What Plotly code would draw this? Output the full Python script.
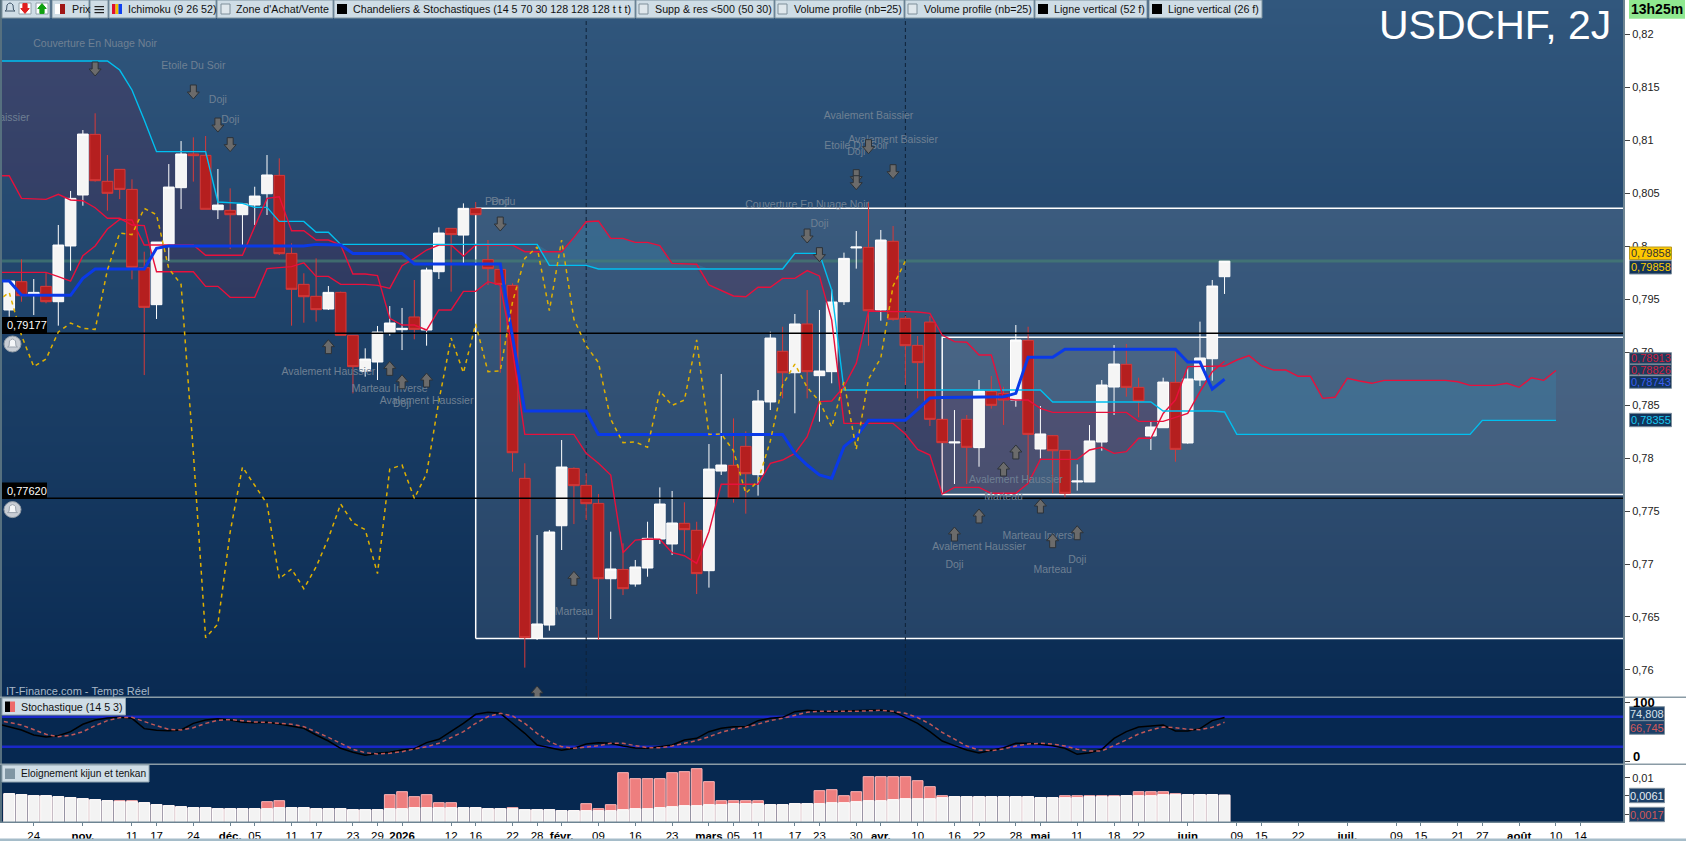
import numpy as np
import plotly.graph_objects as go

W = 1686
H = 841
UI_FONT = "Liberation Sans"

# candles
opens = [0.79397, 0.79664, 0.79541, 0.7962, 0.79475, 0.80001, 0.80482, 0.81054, 0.80611, 0.80724,
         0.80535, 0.79796, 0.79447, 0.80016, 0.80551, 0.80869, 0.80856, 0.80343, 0.80337, 0.80296,
         0.80387, 0.80494, 0.80667, 0.79931, 0.79639, 0.79526, 0.79406, 0.79563, 0.79158, 0.78818,
         0.78906, 0.79183, 0.79211, 0.79331, 0.79208, 0.79758, 0.80167, 0.80104, 0.80356, 0.79872,
         0.7978, 0.79629, 0.77808, 0.76298, 0.76424, 0.77361, 0.77902, 0.77742, 0.77572, 0.76861,
         0.76949, 0.76811, 0.76962, 0.77236, 0.77189, 0.77384, 0.77318, 0.76937, 0.77877, 0.77931,
         0.7811, 0.77843, 0.78529, 0.79007, 0.78805, 0.79265, 0.78777, 0.78815, 0.79475, 0.79982,
         0.79988, 0.79397, 0.80045, 0.79318, 0.79063, 0.79283, 0.78365, 0.78142, 0.78365, 0.78098,
         0.78629, 0.7861, 0.78547, 0.7911, 0.78085, 0.78211, 0.78072, 0.77774, 0.77774, 0.78151,
         0.7867, 0.78884, 0.78667, 0.78208, 0.78286, 0.78714, 0.78142, 0.78736, 0.78937, 0.79711]
highs = [0.7967, 0.79875, 0.79689, 0.79749, 0.80199, 0.8052, 0.81095, 0.81253, 0.80859, 0.80724,
         0.8063, 0.79947, 0.80038, 0.80774, 0.80991, 0.81026, 0.81039, 0.80727, 0.80545, 0.80397,
         0.8056, 0.80859, 0.80828, 0.80026, 0.79743, 0.79884, 0.79623, 0.7957, 0.79158, 0.79035,
         0.79246, 0.79434, 0.79416, 0.7968, 0.79796, 0.80177, 0.80167, 0.80403, 0.80416, 0.80057,
         0.7978, 0.79648, 0.7795, 0.77273, 0.77321, 0.7817, 0.77912, 0.77855, 0.7766, 0.77305,
         0.77195, 0.77038, 0.77399, 0.77723, 0.77689, 0.77582, 0.77399, 0.78132, 0.78793, 0.78374,
         0.78252, 0.78642, 0.79192, 0.79239, 0.79359, 0.79585, 0.79397, 0.79592, 0.79938, 0.80142,
         0.80419, 0.80152, 0.80189, 0.7934, 0.79151, 0.7934, 0.78365, 0.78453, 0.78406, 0.78736,
         0.78774, 0.78673, 0.79255, 0.79239, 0.78491, 0.78217, 0.78072, 0.7794, 0.78311, 0.78736,
         0.79066, 0.79076, 0.78758, 0.78343, 0.78758, 0.79004, 0.78846, 0.79287, 0.7968, 0.79858]
lows = [0.79334, 0.79475, 0.79349, 0.7946, 0.79249, 0.79768, 0.80381, 0.80608, 0.80334, 0.80444,
        0.79686, 0.78783, 0.79312, 0.79859, 0.8035, 0.80608, 0.80347, 0.80255, 0.79972, 0.80004,
        0.80199, 0.80293, 0.79916, 0.79249, 0.79277, 0.79287, 0.79397, 0.79158, 0.7861, 0.78768,
        0.78736, 0.79154, 0.79019, 0.7912, 0.7906, 0.79689, 0.7957, 0.79837, 0.80296, 0.79633,
        0.78805, 0.77871, 0.76022, 0.76283, 0.76371, 0.77132, 0.77377, 0.77415, 0.76283, 0.76481,
        0.76707, 0.76786, 0.7688, 0.77189, 0.77085, 0.77107, 0.76717, 0.76777, 0.7784, 0.77579,
        0.77475, 0.77645, 0.78453, 0.78563, 0.78422, 0.78563, 0.78343, 0.78705, 0.79444, 0.79787,
        0.7906, 0.79296, 0.79296, 0.78689, 0.78563, 0.78302, 0.78145, 0.77755, 0.77755, 0.77918,
        0.78466, 0.78312, 0.78484, 0.77793, 0.77997, 0.77667, 0.77626, 0.77692, 0.77774, 0.78069,
        0.78406, 0.78579, 0.78384, 0.78076, 0.78286, 0.77965, 0.78135, 0.78679, 0.7873, 0.79548]
closes = [0.7967, 0.79532, 0.79563, 0.79475, 0.8001, 0.8045, 0.81057, 0.80617, 0.80498, 0.80535,
          0.79799, 0.79422, 0.80038, 0.80557, 0.80869, 0.80853, 0.80347, 0.80387, 0.80296, 0.80397,
          0.80472, 0.80671, 0.79928, 0.79592, 0.79522, 0.794, 0.79563, 0.79158, 0.78862, 0.78934,
          0.79189, 0.79274, 0.79224, 0.79214, 0.79774, 0.80123, 0.80108, 0.80356, 0.80296, 0.79787,
          0.79639, 0.7805, 0.76305, 0.76434, 0.77302, 0.77915, 0.77739, 0.77569, 0.76861, 0.76953,
          0.76767, 0.76972, 0.77242, 0.77566, 0.77387, 0.77324, 0.76909, 0.77896, 0.77934, 0.7762,
          0.77852, 0.78538, 0.79132, 0.78805, 0.79265, 0.78815, 0.78821, 0.79472, 0.79884, 0.79991,
          0.7939, 0.80057, 0.79309, 0.7906, 0.789, 0.78365, 0.78145, 0.78151, 0.78101, 0.78632,
          0.78497, 0.78547, 0.79114, 0.78223, 0.78227, 0.78069, 0.77667, 0.77783, 0.78161, 0.78689,
          0.78887, 0.78667, 0.78535, 0.78293, 0.78717, 0.78082, 0.78746, 0.78944, 0.79623, 0.79858]

# ichimoku, lines start one bar before the first candle (left edge of the chart)
tenkan = [0.79752] * 5 + [0.79711, 0.7967, 0.79909, 0.80001, 0.80161, 0.80252, 0.80246] + [0.8001] * 5 + [0.79913] * 4 \
    + [0.80183, 0.8045, 0.80466, 0.80145, 0.80145, 0.80057, 0.80057, 0.8001, 0.79736, 0.79736, 0.79721, 0.79318,
       0.79255, 0.79255, 0.79208, 0.79397, 0.79397, 0.79573, 0.79573, 0.79664, 0.79633, 0.79019] + [0.78223] * 5 \
    + [0.78044, 0.7795, 0.7784, 0.77107, 0.77226, 0.77236, 0.77233, 0.77107, 0.77078, 0.77006, 0.77305] + [0.77752] * 4 \
    + [0.7795, 0.77981, 0.78044, 0.78201, 0.78532, 0.78538, 0.78673, 0.78893, 0.79387, 0.79381, 0.79381, 0.79381,
       0.79378, 0.79365, 0.79161, 0.79098, 0.79092, 0.78972, 0.78972, 0.78563, 0.78547, 0.78547, 0.78469] \
    + [0.78431] * 7 + [0.78346] * 3 + [0.78384, 0.78421, 0.78626, 0.78815, 0.78913]
kijun = [0.7967, 0.7967, 0.79538] + [0.79535] * 4 + [0.79695] + [0.79784] * 5 + [0.79979] + [0.80001] * 12 \
    + [0.80016, 0.80016, 0.8001] + [0.79931] * 5 + [0.79831] * 8 + [0.79145] + [0.78444] * 6 + [0.78223] * 16 \
    + [0.78044, 0.77934, 0.7784, 0.77808, 0.78107, 0.78201] + [0.78356] * 4 + [0.78459, 0.78566] + [0.78572] * 5 \
    + [0.78579, 0.7861] + [0.7895] * 3 + [0.79026] * 10 + [0.78906, 0.78906, 0.78651, 0.78743]
senkou_a = [0.80664, 0.80664, 0.8045, 0.80444, 0.80441, 0.80488, 0.80435, 0.80428, 0.80362, 0.80262, 0.80262, 0.80199, 0.80193] \
    + [0.79758] * 4 + [0.7962] * 2 + [0.79516] * 3 + [0.79787, 0.79796, 0.79806, 0.79843, 0.79714, 0.79714] \
    + [0.79639] * 3 + [0.79629, 0.79601, 0.79815, 0.79884, 0.79963, 0.8001, 0.8001, 0.79906] + [0.8001] * 4 \
    + [0.79947] * 4 + [0.80082, 0.8023, 0.80237, 0.80073, 0.80073, 0.80035, 0.80035, 0.80004, 0.79837, 0.79831,
                       0.79828, 0.79633, 0.79579, 0.79529, 0.79522, 0.79611, 0.79611, 0.79695, 0.79695, 0.79768,
                       0.79718, 0.79302] \
    + [0.78327] * 5 + [0.78226, 0.78082, 0.78028, 0.7766] + [0.77723] * 3 + [0.77667] * 3 + [0.77761] + [0.77987] * 4 \
    + [0.78076, 0.78101, 0.78044, 0.7806, 0.78186, 0.78186, 0.78421, 0.78547] + [0.78862] * 3 \
    + [0.78868, 0.78925, 0.78966, 0.78871, 0.7883, 0.7883, 0.78771, 0.78771, 0.78563, 0.78573, 0.78752, 0.78727, 0.78705] \
    + [0.78733] * 6 + [0.7872] + [0.78686] * 3 + [0.78705, 0.78667, 0.78758, 0.78733, 0.78826]
senkou_b = [0.81747] * 10 + [0.81661, 0.81473, 0.8119] + [0.80891] * 5 + [0.80416, 0.8041, 0.80403, 0.80365, 0.80365] \
    + [0.80233] * 3 + [0.8013] * 2 + [0.80016] * 17 + [0.79818] * 4 + [0.79784] * 16 + [0.79931] * 3 + [0.79585] \
    + [0.78642] * 17 + [0.78529] * 9 + [0.78444] * 5 + [0.78434] + [0.78223] * 20 + [0.78355] * 7
chikou = [0.79475, 0.79563, 0.79158, 0.78862, 0.78934, 0.79189, 0.79274, 0.79224, 0.79214, 0.79774, 0.80123,
          0.80108, 0.80356, 0.80296, 0.79787, 0.79639, 0.7805, 0.76305, 0.76434, 0.77302, 0.77915,
          0.77739, 0.77569, 0.76861, 0.76953, 0.76767, 0.76972, 0.77242, 0.77566, 0.77387, 0.77324,
          0.76909, 0.77896, 0.77934, 0.7762, 0.77852, 0.78538, 0.79132, 0.78805, 0.79265, 0.78815,
          0.78821, 0.79472, 0.79884, 0.79991, 0.7939, 0.80057, 0.79309, 0.7906, 0.789, 0.78365,
          0.78145, 0.78151, 0.78101, 0.78632, 0.78497, 0.78547, 0.79114, 0.78223, 0.78227, 0.78069,
          0.77667, 0.77783, 0.78161, 0.78689, 0.78887, 0.78667, 0.78535, 0.78293, 0.78717, 0.78082,
          0.78746, 0.78944, 0.79623, 0.79858]

# stochastic
stoch_k = [64.2, 59.4, 53.8, 45.3, 41.9, 44.1, 50.9, 63.4, 70.7, 74.1, 75.2, 73.5, 56.0, 53.2, 52.6, 53.8, 65.0, 70.7, 73.0,
           70.7, 66.7, 66.2, 66.7, 63.9, 60.5, 56.6, 45.3, 35.1, 22.7, 15.9, 10.8, 14.2, 15.9, 19.9, 22.1, 32.3, 37.9,
           50.9, 65.0, 80.3, 83.7, 82.0, 65.0, 48.1, 28.3, 24.4, 19.3, 22.7, 30.0, 32.3, 31.2, 26.6, 23.2, 22.7, 25.5,
           28.3, 36.8, 39.6, 50.9, 56.6, 59.4, 59.4, 69.6, 73.5, 75.2, 84.8, 87.1, 85.4, 84.3, 86.0, 86.0, 87.1, 87.7,
           84.8, 75.2, 65.0, 50.9, 35.1, 27.2, 19.9, 14.8, 19.9, 23.8, 31.2, 31.2, 29.5, 27.2, 22.7, 12.5, 15.3, 21.0,
           39.6, 50.9, 58.8, 61.1, 62.2, 52.1, 52.1, 56.0, 69.6, 74.808]
stoch_d = [69.6, 66.7, 62.2, 53.8, 46.4, 42.4, 44.7, 50.9, 61.1, 69.6, 74.7, 75.2, 67.9, 61.1, 54.9, 53.8, 57.7, 65.0, 70.1,
           71.3, 69.6, 67.3, 66.7, 65.6, 63.4, 59.4, 50.9, 41.3, 31.2, 21.0, 15.3, 13.1, 14.2, 17.0, 21.5, 25.5, 31.2,
           41.3, 50.9, 65.0, 76.4, 82.0, 77.5, 65.0, 48.1, 34.0, 25.5, 22.7, 24.4, 27.2, 31.2, 31.2, 27.2, 23.8, 23.8,
           26.6, 31.2, 35.7, 42.4, 49.8, 55.4, 58.3, 63.9, 69.6, 73.5, 79.2, 83.7, 85.4, 84.8, 85.4, 85.4, 86.5, 87.1,
           85.4, 82.0, 74.7, 63.9, 49.8, 37.9, 26.6, 19.9, 18.7, 21.5, 26.6, 30.0, 31.2, 30.0, 26.6, 21.0, 18.2, 18.2,
           27.2, 36.8, 47.0, 53.8, 58.8, 57.7, 54.9, 54.3, 58.3, 66.745]
stoch_levels = [76.3, 25.5]

# eloignement kijun / tenkan
gap_white = [.00644, .00621, .00598, .00598, .00576, .00553, .0053, .00508, .00485, .00462, .00462, .00439, .00394,
             .00371, .00348, .00326, .00326, .00303, .00303, .00303, .00303, .00303, .00326, .00326, .00326, .00303,
             .00303, .00303, .0028, .0028, .0028, .00303, .00303, .00326, .00326, .00326, .00326, .00326, .00326,
             .00303, .00303, .00303, .0028, .0028, .0028, .00258, .00258, .00258, .00258, .00258, .0028, .00303,
             .00303, .00326, .00348, .00371, .00371, .00394, .00394, .00417, .00417, .00417, .00394, .00394, .00417,
             .00417, .00417, .00439, .00439, .00462, .00485, .00485, .00508, .0053, .0053, .0053, .00553, .00576,
             .00576, .00576, .00576, .00576, .00576, .00576, .00553, .00553, .00553, .00553, .00576, .00576, .00576,
             .00598, .00598, .00598, .00621, .00621, .00621, .00621, .00621, .0061]
gap_pink = [.00644, .00621, .00598, .00598, .00576, .00553, .0053, .00508, .00485, .00485, .00485, .00439, .00394,
            .00371, .00348, .00326, .00326, .00303, .00303, .00303, .00303, .00462, .00485, .00326, .00326, .00303,
            .00303, .00303, .0028, .0028, .0028, .00621, .00689, .00576, .00621, .00439, .00439, .00326, .00326,
            .00303, .00303, .00326, .0028, .0028, .0028, .00258, .00258, .00417, .00303, .00394, .01121, .00985,
            .00985, .00985, .01121, .01144, .01212, .00917, .00485, .00485, .00485, .00485, .00394, .00394, .00417,
            .00417, .00712, .00735, .00598, .00689, .0103, .0103, .0103, .0103, .00939, .00803, .00598, .00576,
            .00576, .00576, .00576, .00576, .00576, .00576, .00553, .00553, .00598, .00598, .00598, .00598, .00598,
            .00598, .00689, .00689, .00689, .00644, .00621, .00621, .00621, .0061]

# date axis
date_pos = [2, 6, 10, 12, 15, 18, 20, 23, 25, 28, 30, 32, 36, 38, 41, 43, 45, 48, 51, 54, 57, 59, 61, 64, 66, 69, 71,
            74, 77, 79, 82, 84, 87, 90, 92, 96, 100, 102, 105, 109, 113, 115, 118, 120, 123, 126, 128]
date_text = ["24", "<b>nov.</b>", "11", "17", "24", "<b>déc.</b>", "05", "11", "17", "23", "29", "<b>2026</b>", "12",
             "16", "22", "28", "<b>févr.</b>", "09", "16", "23", "<b>mars</b>", "05", "11", "17", "23", "30",
             "<b>avr.</b>", "10", "16", "22", "28", "<b>mai</b>", "11", "18", "22", "<b>juin</b>", "09", "15", "22",
             "<b>juil.</b>", "09", "15", "21", "27", "<b>août</b>", "10", "14"]
price_ticks = [0.76, 0.765, 0.77, 0.775, 0.78, 0.785, 0.79, 0.795, 0.8, 0.805, 0.81, 0.815, 0.82]
price_text = ["0,76", "0,765", "0,77", "0,775", "0,78", "0,785", "0,79", "0,795", "0,8", "0,805", "0,81", "0,815", "0,82"]

# patterns and zones
arrow_down_x = [7, 15, 17, 18, 40, 65, 66, 69, 69, 70, 72]
arrow_down_y = [.81671, .81454, .81142, .80957, .80208, .80095, .79919, .80655, .80598, .80938, .80702]
arrow_up_x = [26, 31, 32, 34, 43, 46, 82, 81, 84, 79, 77, 87, 85]
arrow_up_y = [.79051, .78846, .7872, .78736, .75783, .76865, .78057, .77896, .77547, .77453, .77283, .77295, .7722]
pattern_names = ["Avalement Baissier", "Couverture En Nuage Noir", "Etoile Du Soir", "Doji", "Doji", "Pendu", "Doji",
                 "Avalement Baissier", "Avalement Baissier", "Etoile Du Soir", "Doji", "Couverture En Nuage Noir",
                 "Doji", "Avalement Haussier", "Marteau Inverse", "Avalement Haussier", "Doji", "Marteau",
                 "Avalement Haussier", "Marteau", "Marteau Inverse", "Avalement Haussier", "Doji", "Marteau", "Doji"]
pattern_x = [-2, 7, 15, 17, 18, 40, 40, 70, 72, 69, 69, 65, 66, 26, 31, 34, 32, 46, 82, 81, 84, 79, 77, 85, 87]
pattern_y = [.81202, .819, .81693, .81372, .81183, .8041, .8041, .81221, .80995, .80938, .80881, .80384, .80208,
             .78805, .78645, .78532, .7851, .76541, .77786, .77626, .77258, .77154, .76984, .76937, .77031]
zone_start = [38, 76]
zone_top = [0.80356, 0.79139]
zone_bottom = [0.76298, 0.77657]
support_levels = [0.79177, 0.7762]
vertical_lines = [47, 73]
last_price = 0.79858

x_min = -0.587
x_max = 131.54
y_min = 0.75745
y_max = 0.82322
n = len(closes)
idx = list(range(n))
idx_lines = list(range(-1, n))
idx_cloud = list(range(-1, len(senkou_a) - 1))


def px(x):
    return x / W


def py(y):
    return 1 - y / H


fig = go.Figure()

# gradient behind the price panel, everything on y stays below the candles (y4) and the lines (y5)
fig.add_trace(go.Heatmap(x=[x_min, x_max], y=[y_min, y_max], z=[[0, 0], [1, 1]], zsmooth="best", showscale=False,
                         colorscale=[[0, "rgb(9,42,82)"], [1, "rgb(49,87,125)"]], hoverinfo="skip"))

for i in range(2):
    fig.add_trace(go.Scatter(x=[zone_start[i], zone_start[i], x_max + 1, x_max + 1, zone_start[i]],
                             y=[zone_bottom[i], zone_top[i], zone_top[i], zone_bottom[i], zone_bottom[i]],
                             mode="lines", fill="toself", fillcolor="rgba(255,255,255,0.1)",
                             line=dict(color="white", width=1.5)))

a = np.array(senkou_a)
b = np.array(senkou_b)
hidden = dict(color="rgba(0,0,0,0)", width=0)
fig.add_trace(go.Scatter(x=idx_cloud, y=np.minimum(a, b), mode="lines", line=hidden))
fig.add_trace(go.Scatter(x=idx_cloud, y=b, mode="lines", line=hidden, fill="tonexty", fillcolor="rgba(110,20,60,0.2)"))
fig.add_trace(go.Scatter(x=idx_cloud, y=b, mode="lines", line=hidden))
fig.add_trace(go.Scatter(x=idx_cloud, y=np.maximum(a, b), mode="lines", line=hidden, fill="tonexty",
                         fillcolor="rgba(55,140,180,0.3)"))

fig.add_trace(go.Scatter(x=[x_min, x_max], y=[last_price, last_price], mode="lines",
                         line=dict(color="rgba(70,125,115,0.7)", width=3)))
for v in vertical_lines:
    fig.add_trace(go.Scatter(x=[v, v], y=[y_min, y_max], mode="lines", line=dict(color="#0f2238", width=1, dash="4px,3px")))

fig.add_trace(go.Candlestick(x=idx, open=opens, high=highs, low=lows, close=closes, yaxis="y4",
                             increasing=dict(fillcolor="#f5f5f5", line=dict(color="white", width=1)),
                             decreasing=dict(fillcolor="#b51f1f", line=dict(color="#d63a3a", width=1))))

for level in support_levels:
    fig.add_trace(go.Scatter(x=[x_min, x_max], y=[level, level], yaxis="y5", mode="lines", line=dict(color="black", width=1.5)))
fig.add_trace(go.Scatter(x=idx_cloud, y=senkou_a, yaxis="y5", mode="lines", line=dict(color="#e8103c", width=1.4)))
fig.add_trace(go.Scatter(x=idx_cloud, y=senkou_b, yaxis="y5", mode="lines", line=dict(color="#00c0f0", width=1.4)))
fig.add_trace(go.Scatter(x=idx_lines, y=tenkan, yaxis="y5", mode="lines", line=dict(color="#e8103c", width=1.4)))
fig.add_trace(go.Scatter(x=idx_lines, y=kijun, yaxis="y5", mode="lines", line=dict(color="#0a3ae8", width=3)))
fig.add_trace(go.Scatter(x=idx_lines[:len(chikou)], y=chikou, yaxis="y5", mode="lines",
                         line=dict(color="#e0b000", width=1.5, dash="4px,4px")))
fig.add_trace(go.Scatter(x=pattern_x, y=pattern_y, text=pattern_names, yaxis="y5", mode="text", textposition="middle center",
                         textfont=dict(family="Liberation Sans", size=10.5, color="#6f8093")))

# stochastic panel
for level in stoch_levels:
    fig.add_trace(go.Scatter(x=[x_min, x_max], y=[level, level], yaxis="y2", mode="lines",
                             line=dict(color="#1a28c8", width=2.5)))
fig.add_trace(go.Scatter(x=idx_lines, y=stoch_k, yaxis="y2", mode="lines", line=dict(color="black", width=1.5)))
fig.add_trace(go.Scatter(x=idx_lines, y=stoch_d, yaxis="y2", mode="lines", line=dict(color="#c05858", width=1.5, dash="4px,3px")))

# gap panel
fig.add_trace(go.Bar(x=idx, y=gap_pink, yaxis="y3", width=0.87, marker=dict(color="#ee7f7f", line=dict(color="#ffb4b4", width=1))))
fig.add_trace(go.Bar(x=idx, y=gap_white, yaxis="y3", width=0.87, marker=dict(color="#f3f3f3", line=dict(color="white", width=1))))

shapes = []
annotations = []


def rect(x0, y0, x1, y1, fill, line=None, width=1):
    shapes.append(dict(type="rect", xref="paper", yref="paper", x0=px(x0), x1=px(x1), y0=py(y0), y1=py(y1),
                       fillcolor=fill, line=dict(color=line or fill, width=width if line else 0), layer="above"))


def label(x, y, text, color="black", size=11, anchor="left", bold=False):
    if bold:
        text = "<b>" + text + "</b>"
    annotations.append(dict(xref="paper", yref="paper", x=px(x), y=py(y), text=text, showarrow=False, xanchor=anchor,
                            yanchor="middle", font=dict(family=UI_FONT, size=size, color=color)))


def tag(x0, y0, x1, y1, text, color, bg="#12345a", border="#7f8f9d", size=11):
    rect(x0, y0, x1, y1, bg, border, 1)
    label((x0 + x1) / 2, (y0 + y1) / 2, text, color, size, "center")


def pixel_shape(x, y, path, fill, line, xref="paper", yref="paper", width=1):
    shapes.append(dict(type="path", xref=xref, yref=yref, xsizemode="pixel", ysizemode="pixel", xanchor=x, yanchor=y,
                       path=path, fillcolor=fill, line=dict(color=line, width=width), layer="above"))


# arrows on the price panel
def arrow_path(up, k=1.0):
    s = k if up else -k
    return "M %g %g L %g %g L %g 0 L %g 0 L 0 %g L %g 0 L %g 0 Z" % (
        -3 * k, -7 * s, 3 * k, -7 * s, 3 * k, 6 * k, 7 * s, -6 * k, -3 * k)


for x, y in zip(arrow_down_x, arrow_down_y):
    pixel_shape(x, y, arrow_path(False), "#6b6b6b", "#2c3238", "x", "y")
for x, y in zip(arrow_up_x, arrow_up_y):
    pixel_shape(x, y, arrow_path(True), "#6b6b6b", "#2c3238", "x", "y")

# frame
rect(0, 0, 2, 822, "#56707f")
rect(1623, 0, 1625, 822, "#6d8492")
rect(0, 696.5, 1686, 698, "#8a9ba5")
rect(0, 763.5, 1686, 765, "#8a9ba5")
rect(0, 821.5, 1625, 823, "#6d8492")
rect(0, 838.5, 1686, 841, "#a5bcc9")

# toolbar
toolbar_left = [2, 52, 90, 109, 217, 334, 636, 775, 905, 1035, 1149]
toolbar_right = [50, 89, 108, 216, 333, 635, 774, 904, 1034, 1147, 1262]
for x0, x1 in zip(toolbar_left, toolbar_right):
    rect(x0, 0, x1, 18, "#cfdde6", "#7f939f", 1)
toolbar_text = ["Prix", "Ichimoku (9 26 52)", "Zone d'Achat/Vente",
                "Chandeliers & Stochastiques (14 5 70 30 128 128 128 t t t)", "Supp & res <500 (50 30)",
                "Volume profile (nb=25)", "Volume profile (nb=25)", "Ligne vertical (52 f)", "Ligne vertical (26 f)"]
toolbar_text_x = [69.5, 126, 234, 351, 653, 792, 922, 1052, 1166]
for x, t in zip(toolbar_text_x, toolbar_text):
    label(x, 9, t, "#111", 10.7)
for x in [221, 639, 778, 908]:
    rect(x, 4, x + 9, 14, "#dfe7ec", "#7f8f9a", 1)
for x in [337, 1038, 1152]:
    rect(x, 4, x + 10, 14, "black")
rect(55, 4, 60, 14, "white")
rect(60, 4, 65, 14, "#a01818")
rect(112, 4, 115.5, 14, "#e01030")
rect(115.5, 4, 118.5, 14, "#f0c000")
rect(118.5, 4, 122, 14, "#1040f0")
for y in [6, 9, 12]:
    rect(94.5, y, 104, y + 1.2, "#222")

bell = "M -5 -3 L -3.5 -2 L -3 3 Q 0 7 3 3 L 3.5 -2 L 5 -3 Z"
# alert icons
pixel_shape(px(10), py(8), bell, "rgba(0,0,0,0)", "#40566a")
rect(19, 3, 31, 14, "white", "#90a0aa", 1)
pixel_shape(px(25), py(8.5), arrow_path(False, 0.7), "#e02020", "#e02020")
rect(36, 3, 48, 14, "white", "#90a0aa", 1)
pixel_shape(px(42), py(8.5), arrow_path(True, 0.7), "#10a010", "#10a010")

# clock and title
rect(1629, 0, 1685, 18.7, "#90e890")
label(1657, 9, "13h25m", "black", 14, "center", True)
label(1613, 25, "USDCHF, 2J", "white", 41, "right")

# level labels and bells on the left
for y0, t in [(317, "0,79177"), (482.6, "0,77620")]:
    rect(2, y0, 47, y0 + 16, "black")
    label(4.5, y0 + 8, t, "white")
    cy = y0 + 27
    shapes.append(dict(type="circle", xref="paper", yref="paper", x0=px(4), x1=px(21), y0=py(cy - 8), y1=py(cy + 8),
                       fillcolor="#c8cdd4", line=dict(color="#8f99a3", width=1), layer="above"))
    pixel_shape(px(12.5), py(cy), bell, "#f4f6f8", "#9aa3ad")

# tags on the right axis
tag(1629.5, 247, 1671.5, 259.5, "0,79858", "#333", "#ffc800", "#b89a20")
tag(1629.5, 260.7, 1671.5, 274, "0,79858", "#ffcc00")
tag(1629.5, 352.7, 1671.5, 364, "0,78913", "#d02040", "#1d3c5c")
tag(1629.5, 364.3, 1671.5, 375, "0,78826", "#d02040", "#1d3c5c")
tag(1629.5, 375.7, 1671.5, 388.3, "0,78743", "#3a5ff0")
tag(1629.5, 413.3, 1671.5, 426.7, "0,78355", "#18c8f0")
tag(1629.5, 706.7, 1664.5, 720.7, "74,808", "#d8e0e8", "#1c4068")
tag(1629.5, 720.7, 1664.5, 734.3, "66,745", "#d05858", "#1c4068")
tag(1629.5, 788.3, 1664.5, 802.7, "0,0061", "#e6ecf2", "#1c4068")
tag(1629.5, 807.3, 1664.5, 821.7, "0,0017", "#d05858", "#1c4068")
label(1631, 702.7, "100", "black", 13, "left", True)
label(1631, 756.7, "0", "black", 13, "left", True)

# panel titles
label(4, 691, "IT-Finance.com - Temps Réel", "#a8b8c8")
rect(2, 698, 125.5, 715, "#cfdde6", "#8fa3af", 1)
rect(5, 701.5, 10, 712, "black")
rect(10, 701.5, 15, 712, "#ee6a6a")
label(19, 706.5, "Stochastique (14 5 3)", "#111", 10.7)
rect(2, 765, 149, 782, "#cfdde6", "#8fa3af", 1)
rect(5, 768.5, 15, 779, "#7f95a3")
label(19, 773.5, "Eloignement kijun et tenkan", "#111", 10.2)

hidden_y = dict(domain=[py(697), 1], range=[y_min, y_max], overlaying="y", anchor="x", side="right", visible=False,
                automargin=False)

fig.update_layout(
    width=W, height=H, margin=dict(l=0, r=0, t=0, b=0, pad=0), autosize=False,
    paper_bgcolor="white", plot_bgcolor="#062850", showlegend=False, barmode="overlay", boxgap=0.13, boxgroupgap=0,
    font=dict(family=UI_FONT, color="black"), hovermode=False,
    shapes=shapes, annotations=annotations,
    xaxis=dict(domain=[px(2), px(1624)], range=[x_min, x_max], anchor="y3", rangeslider=dict(visible=False),
               showgrid=False, zeroline=False, tickmode="array", tickvals=date_pos, ticktext=date_text, tickangle=0,
               ticks="outside", ticklen=3, tickcolor="#6d8492", tickfont=dict(size=11.5, color="black"), automargin=False),
    yaxis=dict(domain=[py(697), 1], range=[y_min, y_max], side="right", anchor="x", showgrid=False, zeroline=False,
               tickmode="array", tickvals=price_ticks, ticktext=price_text, ticks="outside", ticklen=5,
               tickcolor="#444", tickfont=dict(size=11, color="#222"), automargin=False),
    yaxis2=dict(domain=[py(764), py(697)], range=[-3.9, 109.66], side="right", anchor="x", showgrid=False,
                zeroline=False, tickmode="array", tickvals=[0, 100], showticklabels=False, ticks="outside", ticklen=5,
                tickcolor="#444", automargin=False),
    yaxis3=dict(domain=[py(822), py(764)], range=[0, 0.01318], side="right", anchor="x", showgrid=False, zeroline=False,
                tickmode="array", tickvals=[0.0017, 0.0061, 0.01], ticktext=["", "", "0,01"], ticks="outside", ticklen=5,
                tickcolor="#444", tickfont=dict(size=11, color="#222"), automargin=False),
    yaxis4=hidden_y,
    yaxis5=hidden_y,
)

fig.write_html("out.html", config={"displayModeBar": False}, post_script="document.body.style.margin='0';")
